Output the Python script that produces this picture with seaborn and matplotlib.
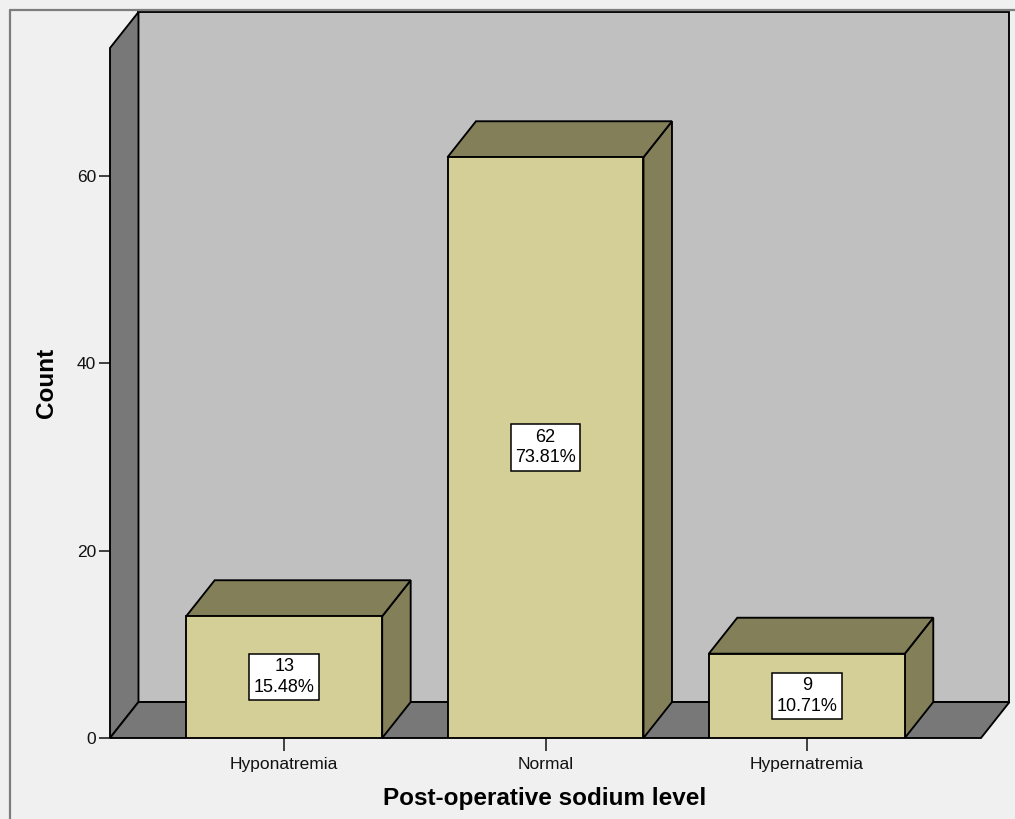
import matplotlib
matplotlib.use("Agg")
import matplotlib.pyplot as plt
from matplotlib.patches import Polygon
from matplotlib.lines import Line2D
import seaborn as sns

# Data
categories = ["Hyponatremia", "Normal", "Hypernatremia"]
counts = [13, 62, 9]
y_ticks = [0, 20, 40, 60]

# Styling
FRONT = "#d3cf97"
SHADE = "#838059"
BACK_WALL = "#c0c0c0"
SIDE_WALL = "#787878"
BG = "#f0f0f0"
EDGE_LW = 1.35

sns.set_style("ticks")
plt.rcParams["font.family"] = ["Liberation Sans", "DejaVu Sans"]

fig = plt.figure(figsize=(10.15, 8.19), dpi=100, facecolor=BG)
ax = fig.add_axes([110 / 1015, 81 / 819, 871 / 1015, 690 / 819])
ax.set_facecolor("none")

sns.barplot(x=categories, y=counts, color=FRONT, saturation=1, width=0.75,
            edgecolor="black", linewidth=EDGE_LW, errorbar=None, ax=ax, zorder=3)

ax.set_xlim(-2 / 3, 8 / 3)
ax.set_ylim(0, 73.66)
x0, x1 = ax.get_xlim()
y1 = ax.get_ylim()[1]

# 3D depth offset in data units
dx, dy = 0.109, 3.84

# Back wall, left wall and floor
walls = [
    ([(x0 + dx, dy), (x1 + dx, dy), (x1 + dx, y1 + dy), (x0 + dx, y1 + dy)], BACK_WALL, 0.5),
    ([(x0, 0), (x0, y1), (x0 + dx, y1 + dy), (x0 + dx, dy)], SIDE_WALL, 0.6),
    ([(x0, 0), (x1, 0), (x1 + dx, dy), (x0 + dx, dy)], SIDE_WALL, 0.6),
]
for pts, fc, z in walls:
    ax.add_patch(Polygon(pts, closed=True, facecolor=fc, edgecolor="black",
                         linewidth=EDGE_LW, zorder=z, clip_on=False,
                         joinstyle="miter"))

# Side and top faces of each bar, built from the bar rectangles
total = sum(counts)
for bar, n in zip(ax.patches[:len(counts)], counts):
    bx = bar.get_x()
    bw = bar.get_width()
    bh = bar.get_height()
    side = [(bx + bw, 0), (bx + bw, bh), (bx + bw + dx, bh + dy), (bx + bw + dx, dy)]
    top = [(bx, bh), (bx + bw, bh), (bx + bw + dx, bh + dy), (bx + dx, bh + dy)]
    for pts in (side, top):
        ax.add_patch(Polygon(pts, closed=True, facecolor=SHADE, edgecolor="black",
                             linewidth=EDGE_LW, zorder=2.5, clip_on=False,
                             joinstyle="miter"))
    ax.text(bx + bw / 2, bh / 2, f"{n}\n{n / total * 100:.2f}%",
            ha="center", va="center", fontsize=13, linespacing=1.28,
            color="black", zorder=6,
            bbox=dict(boxstyle="square,pad=0.25", facecolor="white",
                      edgecolor="black", linewidth=1.1))

for s in ax.spines.values():
    s.set_visible(False)

ax.set_yticks(y_ticks)
ax.tick_params(axis="y", direction="out", length=8, width=1.2, color="#222222",
               labelsize=12.5, pad=2, labelcolor="#111111")
ax.tick_params(axis="x", direction="out", length=9, width=1.2, color="#222222",
               labelsize=12.5, pad=5, labelcolor="#111111")

ax.set_ylabel("Count", fontsize=17.5, fontweight="bold", va="center", color="black")
ax.yaxis.set_label_coords(-(110 - 47) / 871, (738 - 383) / 690)
ax.set_xlabel("Post-operative sodium level", fontsize=17.5, fontweight="bold",
              va="center", color="black")
ax.xaxis.set_label_coords((545 - 110) / 871, -(799 - 738) / 690)

# Outer chart frame
fig.add_artist(Line2D([9.5 / 1015, 9.5 / 1015], [0, 1 - 9.5 / 819],
                      transform=fig.transFigure, color="#7d7d7d", linewidth=1.6))
fig.add_artist(Line2D([9.5 / 1015, 1], [1 - 9.5 / 819, 1 - 9.5 / 819],
                      transform=fig.transFigure, color="#7d7d7d", linewidth=1.6))

fig.savefig("out.png", dpi=100, facecolor=BG)
